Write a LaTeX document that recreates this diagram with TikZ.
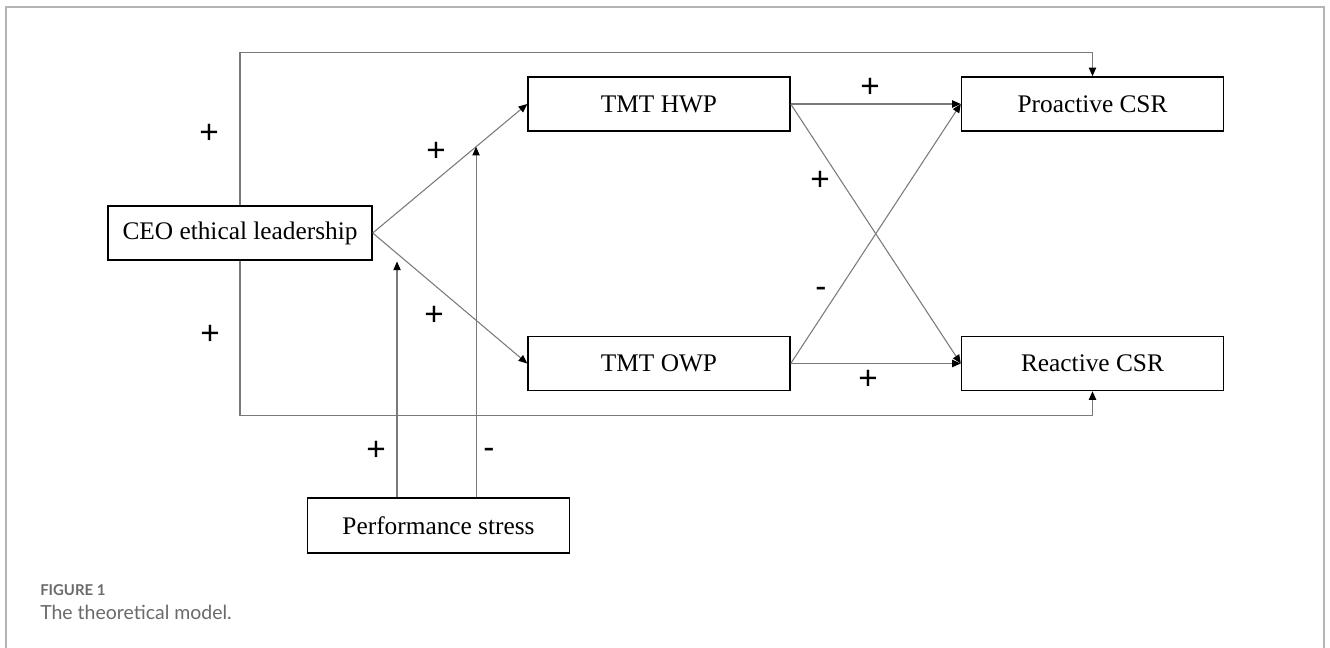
\documentclass[tikz,border=0pt]{standalone}
\usepackage{fontspec}
\setmainfont{Liberation Serif}
\newfontfamily\labfont{Liberation Sans}
\newfontfamily\capfont{Lato}
\usetikzlibrary{arrows.meta}
\definecolor{framegray}{HTML}{B4B4B4}
\definecolor{linegray}{HTML}{7A7A7A}
\definecolor{capgray}{HTML}{6A6A6A}
\begin{document}
\begin{tikzpicture}[x=0.75pt,y=-0.75pt,
  box/.style={draw=black,line width=1.1pt,minimum width=196.5pt,minimum height=40.5pt,inner sep=0pt,font=\fontsize{19}{22}\selectfont},
  conn/.style={draw=linegray,line width=0.8pt,-{Triangle[length=6.5pt,width=5.5pt,color=black]}},
  sign/.style={font=\labfont\fontsize{25}{26}\selectfont,inner sep=0pt}]
\useasboundingbox (0,0) rectangle (1330,648);
% frame
\draw[framegray,line width=1.2pt] (6,660) -- (6,7) -- (1324,7) -- (1324,660);
% nodes
\node[box,minimum width=198pt] (ceo) at (240,233) {CEO ethical leadership};
\node[box] (hwp) at (659,104) {TMT HWP};
\node[box] (pro) at (1092.5,104) {Proactive CSR};
\node[box] (owp) at (659,363.5) {TMT OWP};
\node[box] (rea) at (1092.5,363.5) {Reactive CSR};
\node[box,minimum height=41.25pt] (ps) at (438.5,525.5) {Performance stress};
% connectors
\draw[conn] (ceo.east) -- (hwp.west);
\draw[conn] (ceo.east) -- (owp.west);
\draw[conn] (hwp.east) -- (pro.west);
\draw[conn] (owp.east) -- (rea.west);
\draw[conn] (hwp.east) -- (rea.west);
\draw[conn] (owp.east) -- (pro.west);
\draw[conn] (ceo.north) -- ++(0,-153) -| (pro.north);
\draw[conn] (ceo.south) -- ++(0,155) -| (rea.south);
% moderators
\coordinate (m1) at (intersection of ceo.east--owp.west and 397,0--397,600);
\coordinate (m2) at (intersection of ceo.east--hwp.west and 476,0--476,600);
\draw[conn,shorten >=6pt] (ps.north -| m1) -- (m1);
\draw[conn] (ps.north -| m2) -- (m2);
% signs
\node[sign] (s1) at (209,134) {+};
\node[sign] (s2) at (210,335) {+};
\node[sign] (s3) at (436,152) {+};
\node[sign] (s4) at (434,316) {+};
\node[sign] (s5) at (870,88) {+};
\node[sign] (s6) at (820,181) {+};
\node[sign] (s7) at (821,292) {-};
\node[sign] (s8) at (868,380) {+};
\node[sign] (s9) at (376,451) {+};
\node[sign] (s10) at (489,453) {-};
% caption
\node[anchor=base west,font=\capfont\bfseries\fontsize{11.2}{12}\selectfont,text=capgray,inner sep=0pt] (figlab) at (40,595) {FIGURE 1};
\node[anchor=base west,font=\capfont\fontsize{14.6}{16}\selectfont,text=capgray,inner sep=0pt] (cap) at (40,619) {The theoretical model.};
\end{tikzpicture}
\end{document}
